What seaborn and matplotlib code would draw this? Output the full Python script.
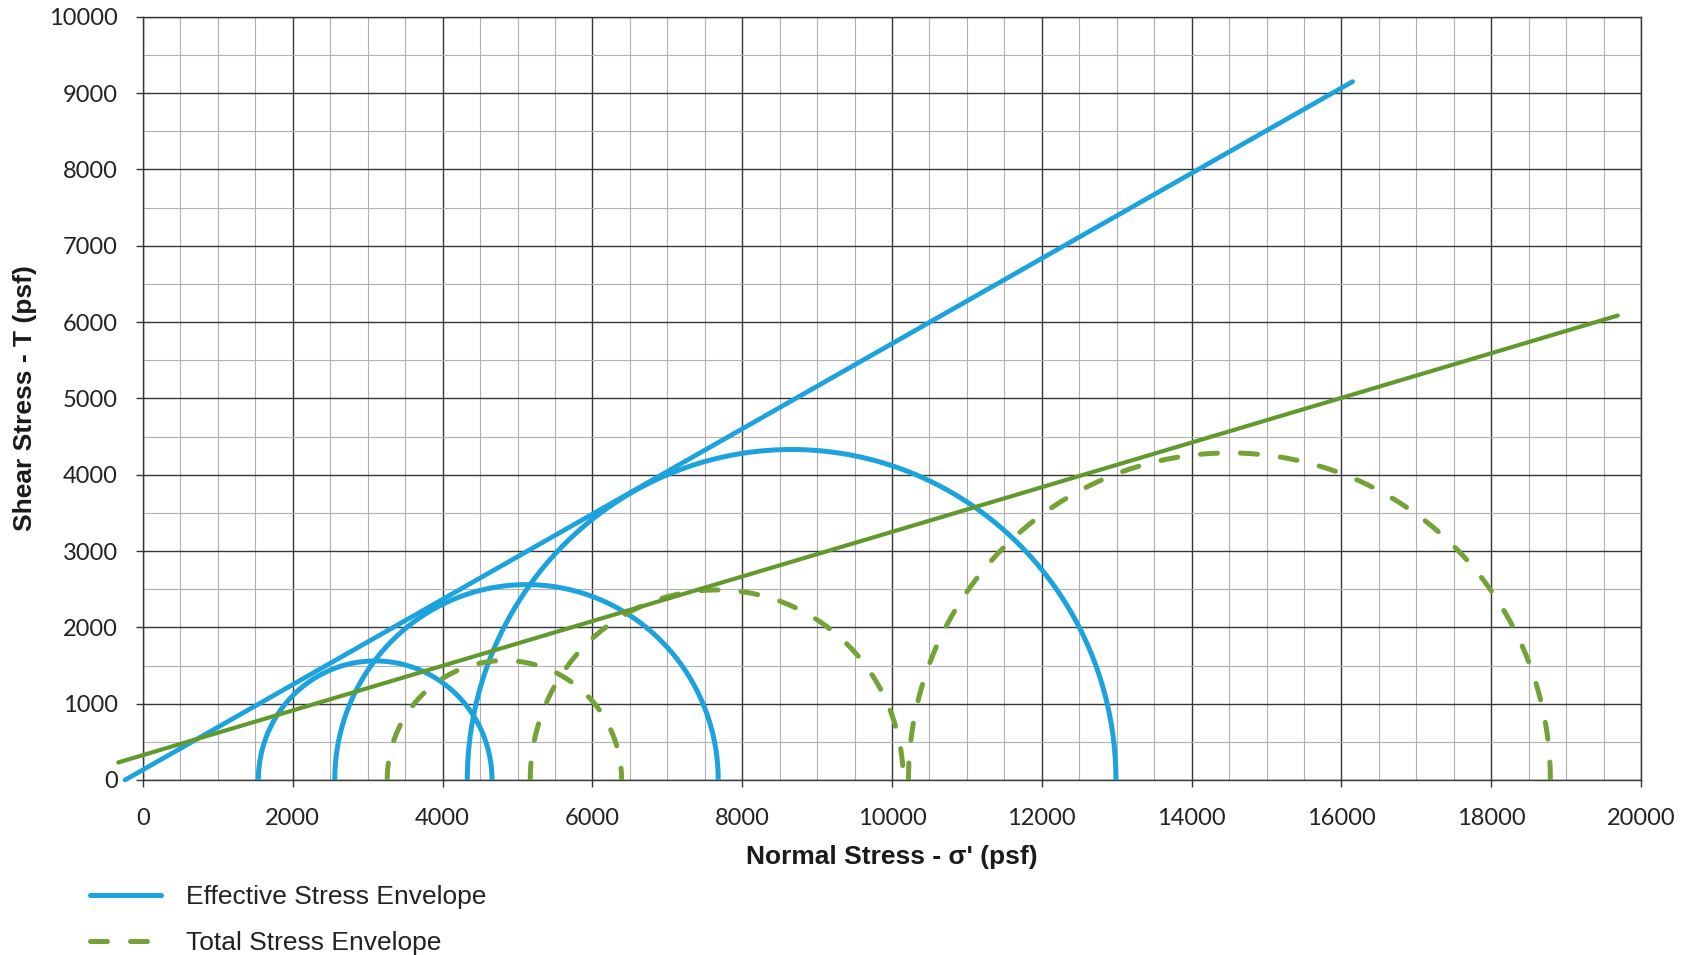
import numpy as np
import pandas as pd
import matplotlib
matplotlib.use("Agg")
import matplotlib.pyplot as plt
from matplotlib.lines import Line2D
from matplotlib.ticker import MultipleLocator
import seaborn as sns

# Mohr circles: minor and major principal stresses of each test (psf)
eff_sigma3 = [1540, 2560, 4330]
eff_sigma1 = [4660, 7680, 12990]
tot_sigma3 = [3260, 5170, 10220]
tot_sigma1 = [6390, 10150, 18790]

# Failure envelopes: end points (normal stress, shear stress) in psf
eff_env_sigma = [-240, 16150]
eff_env_tau = [0, 9150]
tot_env_sigma = [-330, 19690]
tot_env_tau = [230, 6085]

x_ticks = list(range(0, 20001, 2000))
y_ticks = list(range(0, 10001, 1000))

legend_labels = ["Effective Stress Envelope", "Total Stress Envelope"]
x_label = "Normal Stress - σ' (psf)"
y_label = "Shear Stress - T (psf)"

BLUE = "#1CA3DE"
GREEN = "#62992F"
GREEN_DASH = "#74A237"


def mohr_frame(s3_list, s1_list, n=241):
    rows = []
    theta = np.linspace(np.pi, 0, n)
    for i, (s3, s1) in enumerate(zip(s3_list, s1_list)):
        c = (s3 + s1) / 2.0
        r = (s1 - s3) / 2.0
        rows.append(pd.DataFrame({"test": i,
                                  "sigma": c + r * np.cos(theta),
                                  "tau": r * np.sin(theta)}))
    return pd.concat(rows, ignore_index=True)


eff_circles = mohr_frame(eff_sigma3, eff_sigma1)
tot_circles = mohr_frame(tot_sigma3, tot_sigma1)
eff_env = pd.DataFrame({"sigma": eff_env_sigma, "tau": eff_env_tau})
tot_env = pd.DataFrame({"sigma": tot_env_sigma, "tau": tot_env_tau})

sns.set_theme(style="white")
plt.rcParams["font.family"] = ["Liberation Sans", "DejaVu Sans"]

fig = plt.figure(figsize=(16.85, 9.55), dpi=100)
ax = fig.add_axes([143 / 1685, 1 - 780 / 955, 1498 / 1685, 763.3 / 955])

dash = (0, (3.4, 4.6))
sns.lineplot(data=eff_circles, x="sigma", y="tau", units="test", estimator=None,
             sort=False, color=BLUE, lw=3.6, ax=ax, legend=False, zorder=3)
sns.lineplot(data=tot_circles, x="sigma", y="tau", units="test", estimator=None,
             sort=False, color=GREEN_DASH, lw=3.6, linestyle=dash,
             dash_capstyle="round", ax=ax, legend=False, zorder=3)
sns.lineplot(data=eff_env, x="sigma", y="tau", estimator=None, sort=False,
             color=BLUE, lw=3.4, ax=ax, legend=False, zorder=4, clip_on=False)
sns.lineplot(data=tot_env, x="sigma", y="tau", estimator=None, sort=False,
             color=GREEN, lw=3.0, ax=ax, legend=False, zorder=5, clip_on=False)

ax.set_xlim(0, 20000)
ax.set_ylim(0, 10000)
ax.set_xticks(x_ticks)
ax.set_yticks(y_ticks)
ax.xaxis.set_minor_locator(MultipleLocator(500))
ax.yaxis.set_minor_locator(MultipleLocator(500))
ax.grid(which="major", color="#363636", lw=1.0, zorder=1)
ax.grid(which="minor", color="#b0b0b0", lw=0.8, zorder=0)
ax.set_axisbelow(True)
for sp in ax.spines.values():
    sp.set_color("#363636")
    sp.set_linewidth(1.0)

ax.tick_params(axis="both", which="major", direction="out", length=5, width=1,
               color="#363636", labelsize=17, labelcolor="#222222")
ax.tick_params(axis="x", which="major", pad=15, bottom=True)
ax.tick_params(axis="y", which="major", pad=13, left=True)
ax.tick_params(which="minor", length=0)
for lab in ax.get_xticklabels() + ax.get_yticklabels():
    lab.set_family(["Lato", "DejaVu Sans"])

ax.set_xlabel(x_label, fontsize=19, fontweight="bold", color="#1a1a1a")
ax.set_ylabel(y_label, fontsize=19, fontweight="bold", color="#1a1a1a")
ax.xaxis.set_label_coords(0.5, -77 / 763.3)
ax.xaxis.label.set_verticalalignment("center")
ax.yaxis.set_label_coords((25 - 143) / 1498, 0.5)
ax.yaxis.label.set_verticalalignment("center")

handles = [Line2D([], [], color=BLUE, lw=3.6),
           Line2D([], [], color=GREEN_DASH, lw=3.6, linestyle=dash,
                  dash_capstyle="round")]
fig.legend(handles, legend_labels, loc="upper left",
           bbox_to_anchor=(90 / 1685, 1 - 885 / 955), frameon=False,
           fontsize=19, handlelength=2.7, handletextpad=0.95,
           labelspacing=0.85, borderpad=0, borderaxespad=0,
           labelcolor="#222222")

fig.savefig("out.png", dpi=100, facecolor="white")
